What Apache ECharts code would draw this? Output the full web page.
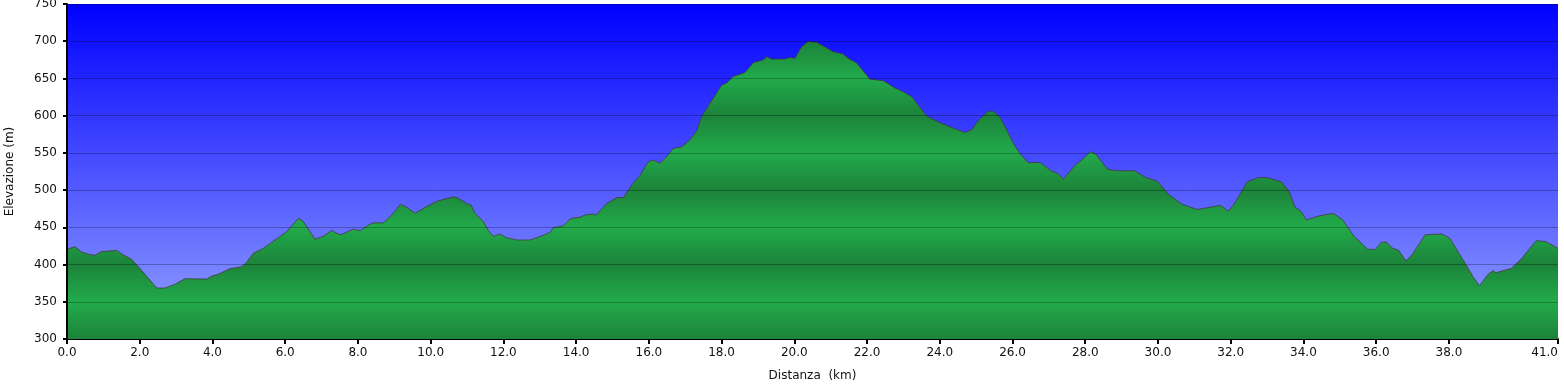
<!DOCTYPE html>
<html>
<head>
<meta charset="utf-8">
<script src="https://cdn.jsdelivr.net/npm/echarts@6/dist/echarts.min.js"></script>
<style>html,body{margin:0;padding:0;background:#fff}#c{width:1564px;height:390px}</style>
</head>
<body>
<div id="c"></div>
<script>
var distanceKm = [0, 0.22, 0.4, 0.59, 0.77, 0.95, 1.37, 1.55, 1.78, 2.0, 2.24, 2.47, 2.69, 2.97, 3.24, 3.84, 3.98, 4.16, 4.48, 4.8, 4.94, 5.12, 5.4, 5.72, 6.04, 6.36, 6.48, 6.68, 6.82, 7.05, 7.28, 7.37, 7.53, 7.87, 8.06, 8.29, 8.42, 8.7, 8.93, 9.17, 9.34, 9.57, 9.8, 10.17, 10.39, 10.64, 10.76, 10.99, 11.11, 11.22, 11.45, 11.58, 11.72, 11.91, 12.09, 12.37, 12.73, 13.0, 13.28, 13.37, 13.65, 13.83, 13.92, 14.1, 14.24, 14.47, 14.55, 14.84, 15.12, 15.3, 15.53, 15.76, 15.98, 16.12, 16.31, 16.49, 16.67, 16.9, 17.13, 17.32, 17.45, 17.68, 18.0, 18.14, 18.32, 18.64, 18.87, 19.15, 19.24, 19.38, 19.74, 19.88, 20.02, 20.2, 20.38, 20.61, 20.75, 21.07, 21.34, 21.48, 21.71, 22.08, 22.45, 22.77, 23.0, 23.23, 23.64, 24.01, 24.33, 24.69, 24.88, 25.06, 25.2, 25.33, 25.47, 25.66, 25.84, 26.02, 26.21, 26.43, 26.76, 26.98, 27.08, 27.24, 27.4, 27.72, 27.93, 28.14, 28.29, 28.61, 28.87, 29.35, 29.66, 29.98, 30.29, 30.66, 31.08, 31.72, 31.93, 32.08, 32.45, 32.77, 33.03, 33.4, 33.61, 33.77, 33.93, 34.08, 34.4, 34.82, 35.08, 35.4, 35.77, 35.98, 36.14, 36.29, 36.45, 36.61, 36.82, 36.98, 37.35, 37.82, 38.03, 38.45, 38.66, 38.84, 39.08, 39.22, 39.29, 39.72, 39.98, 40.4, 40.66, 41.0];
var elevationM = [420.5, 424, 417, 414, 412.5, 417.5, 419, 413, 407, 395, 381.5, 368.5, 368.5, 373.5, 381, 380.5, 384.5, 387, 394.5, 397, 403, 415, 422, 433, 444, 462, 459, 444, 434, 438, 446, 443, 440, 447.5, 445.5, 453, 456, 456, 466.5, 481, 477, 469, 475.5, 485, 488, 491, 489, 482, 480, 469, 457.5, 446, 438, 441, 436, 433, 433, 437.5, 443, 449.5, 452, 461, 462.5, 463.5, 466.5, 468, 466.5, 482, 490, 490, 507, 520, 538, 540.5, 536, 545, 556, 558, 567.5, 580, 599, 616.5, 641, 644, 652.5, 658, 671, 675, 679, 676, 676, 678, 677, 692.5, 699.5, 698.5, 695, 686, 683, 677, 671, 649, 647, 637, 632, 625.5, 599.5, 590.5, 584, 577.5, 581, 594, 600, 606, 606, 598, 581, 563, 548.5, 537, 537, 529, 525.5, 522.5, 515, 533.5, 541.5, 551.5, 548.5, 528, 526, 526, 517, 512, 494.5, 481, 474, 479.5, 472, 480, 511, 517, 516.5, 511, 498, 477, 472, 460, 465, 469, 460, 437.5, 420.5, 420.5, 430, 430, 422, 419.5, 405, 413, 440, 441, 435, 401.5, 384, 371.5, 387, 392, 389, 395, 407, 432, 431, 422];
var xTickValues = [0, 2, 4, 6, 8, 10, 12, 14, 16, 18, 20, 22, 24, 26, 28, 30, 32, 34, 36, 38, 41];
var yMin = 300, yMax = 750, yStep = 50;

var points = distanceKm.map(function (d, i) { return [d, elevationM[i]]; });

var chart = echarts.init(document.getElementById('c'), null, {renderer: 'canvas'});
var gTop = 4, gBottom = 339;

// banded green fill: bright at 350/450/550/650/750, dark at 300/400/500/600/700
var stops = [];
for (var v = yMax; v >= yMin; v -= yStep) {
  var off = (yMax - v) / (yMax - yMin);
  var bright = ((v - yMin) / yStep) % 2 === 1;
  stops.push({offset: off, color: bright ? '#22ab4b' : '#1c833a'});
}
var greenFill = new echarts.graphic.LinearGradient(0, gTop, 0, gBottom, stops, true);

var font = '"DejaVu Sans", Verdana, sans-serif';
chart.setOption({
  animation: false,
  grid: {
    left: 67, right: 6, top: gTop, bottom: 390 - gBottom,
    outerBoundsMode: 'none', containLabel: false,
    show: true, borderWidth: 0,
    backgroundColor: new echarts.graphic.LinearGradient(0, 0, 0, 1, [
      {offset: 0, color: '#0000ff'},
      {offset: 1, color: '#96a4ff'}
    ])
  },
  xAxis: {
    type: 'value', min: 0, max: 41,
    name: 'Distanza  (km)', nameLocation: 'middle', nameGap: 31,
    nameTextStyle: {fontFamily: font, fontSize: 12, color: '#111'},
    axisLine: {show: true, lineStyle: {color: '#000', width: 2}},
    axisTick: {show: true, length: 5, lineStyle: {color: '#000', width: 2}, customValues: xTickValues},
    axisLabel: {fontFamily: font, fontSize: 12, color: '#111', margin: 8, customValues: xTickValues,
      alignMaxLabel: 'right', showMaxLabel: true,
      formatter: function (v) { return v.toFixed(1); }},
    splitLine: {show: false}
  },
  yAxis: {
    type: 'value', min: yMin, max: yMax, interval: yStep, z: 5,
    name: 'Elevazione (m)', nameLocation: 'middle', nameGap: 51,
    nameTextStyle: {fontFamily: font, fontSize: 12, color: '#111'},
    axisLine: {show: true, lineStyle: {color: '#000', width: 2}},
    axisTick: {show: true, length: 4, lineStyle: {color: '#000', width: 2}},
    axisLabel: {fontFamily: font, fontSize: 12, color: '#111', margin: 10},
    splitLine: {show: true, lineStyle: {color: 'rgba(0,0,0,0.28)', width: 1}}
  },
  series: [{
    type: 'line',
    data: points,
    showSymbol: false,
    smooth: false,
    lineStyle: {color: 'rgba(70,55,55,0.75)', width: 1},
    areaStyle: {color: greenFill, opacity: 1}
  }]
});
</script>
</body>
</html>
